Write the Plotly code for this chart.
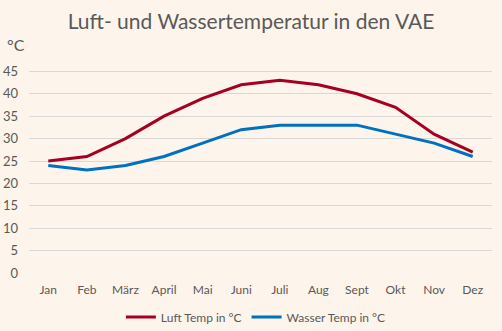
import plotly.graph_objects as go

months = ["Jan", "Feb", "März", "April", "Mai", "Juni", "Juli", "Aug", "Sept", "Okt", "Nov", "Dez"]
luft_temp = [25, 26, 30, 35, 39, 42, 43, 42, 40, 37, 31, 27]
wasser_temp = [24, 23, 24, 26, 29, 32, 33, 33, 33, 31, 29, 26]
y_ticks = [0, 5, 10, 15, 20, 25, 30, 35, 40, 45, 50]
y_tick_labels = ["0", "5", "10", "15", "20", "25", "30", "35", "40", "45", ""]

FONT = "Lato, Open Sans, sans-serif"
TEXT = "#595959"
BG = "#FDF5EB"

fig = go.Figure()
fig.add_trace(go.Scatter(x=months, y=luft_temp, mode="lines", name="Luft Temp in °C",
                         line=dict(color="#A50021", width=3)))
fig.add_trace(go.Scatter(x=months, y=wasser_temp, mode="lines", name="Wasser Temp in °C",
                         line=dict(color="#0070C0", width=3)))

fig.update_layout(
    width=502, height=331,
    paper_bgcolor=BG, plot_bgcolor=BG,
    margin=dict(l=29, r=10, t=49, b=58, autoexpand=False),
    font=dict(family=FONT, color=TEXT, size=12),
    title=dict(text="Luft- und Wassertemperatur in den VAE", x=0.5, xanchor="center",
               y=0.935, yanchor="middle", font=dict(size=21, color=TEXT, family=FONT)),
    showlegend=True,
    legend=dict(orientation="h", x=0.49, xanchor="center", yref="container", y=0.042,
                yanchor="middle", font=dict(size=12, color=TEXT), bgcolor="rgba(0,0,0,0)",
                itemwidth=30, tracegroupgap=0),
    xaxis=dict(range=[-0.5, 11.5], showgrid=False, zeroline=False, showline=False,
               ticks="", tickfont=dict(size=12, color=TEXT), automargin=False,
               ticklabelstandoff=8),
    yaxis=dict(range=[0, 50], tickvals=y_ticks, ticktext=y_tick_labels,
               showgrid=True, gridcolor="#D9D9D9", gridwidth=1, zeroline=False,
               showline=False, ticks="", tickfont=dict(size=13, color=TEXT),
               ticklabelstandoff=10, automargin=False),
    annotations=[dict(text="°C", xref="paper", yref="paper", x=-0.052, y=1.022,
                      xanchor="left", yanchor="middle", showarrow=False,
                      font=dict(size=16, color=TEXT, family=FONT))],
)

fig.write_html("out.html")
